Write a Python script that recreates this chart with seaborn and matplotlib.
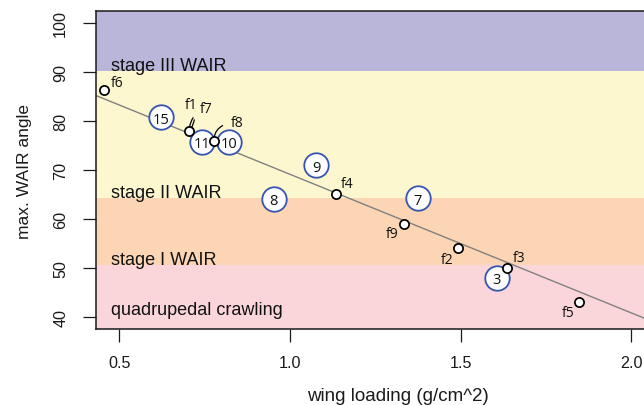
import numpy as np
import pandas as pd
import matplotlib
matplotlib.use("Agg")
import matplotlib.pyplot as plt
import seaborn as sns

# Fossil specimens: wing loading vs. maximum WAIR angle
fossil_ids = ["f6", "f1", "f7", "f8", "f4", "f9", "f2", "f3", "f5"]
fossil_wing_loading = [0.456, 0.705, 0.705, 0.7775, 1.135, 1.335, 1.4915, 1.636, 1.848]
fossil_wair_angle = [86.3, 77.9, 77.9, 75.9, 65.05, 58.9, 54.05, 50.1, 43.1]

# Extant birds (numbered)
bird_ids = ["15", "11", "10", "9", "8", "7", "3"]
bird_wing_loading = [0.623, 0.742, 0.8205, 1.077, 0.952, 1.374, 1.606]
bird_wair_angle = [80.75, 75.75, 75.75, 71.0, 64.1, 64.2, 48.05]

# Linear trend: angle = intercept + slope * wing loading
trend_intercept = 97.37
trend_slope = -28.24

# Locomotor stages and the angle bounds that separate them
stage_names = ["quadrupedal crawling", "stage I WAIR", "stage II WAIR", "stage III WAIR"]
stage_bounds = [50.6, 64.3, 90.1]
stage_colors = ["#fad6db", "#fcd5b4", "#fdf7d0", "#b9b6d9"]

x_ticks = [0.5, 1.0, 1.5, 2.0]
x_tick_labels = ["0.5", "1.0", "1.5", "2.0"]
y_ticks = [40, 50, 60, 70, 80, 90, 100]

fossil_df = pd.DataFrame({"id": fossil_ids, "wl": fossil_wing_loading, "angle": fossil_wair_angle})
bird_df = pd.DataFrame({"id": bird_ids, "wl": bird_wing_loading, "angle": bird_wair_angle})

sns.set_style("ticks")
plt.rcParams["font.family"] = ["Liberation Sans", "DejaVu Sans"]

XLIM = (0.4332, 2.2)
YLIM = (37.6, 102.4)

fig = plt.figure(figsize=(6.44, 4.06), dpi=100)
ax = fig.add_axes([0.1498, 0.1872, 0.9363, 0.7832])
ax.set_xlim(*XLIM)
ax.set_ylim(*YLIM)

# background bands
edges = [YLIM[0] - 50] + stage_bounds + [YLIM[1] + 50]
for lo, hi, col in zip(edges[:-1], edges[1:], stage_colors):
    ax.axhspan(lo, hi, color=col, lw=0, zorder=0)

# stage captions sit just above each band's lower edge
cap_y = [YLIM[0] + 3.05] + [b + 0.25 for b in stage_bounds]
for name, yv in zip(stage_names, cap_y):
    ax.annotate(name, xy=(0, yv), xycoords=("axes fraction", "data"),
                xytext=(10.2, 0), textcoords="offset points",
                ha="left", va="baseline", fontsize=13, color="#111111", zorder=5)

# trend line
ax.axline((0, trend_intercept), slope=trend_slope, color="#808080", lw=1.0, zorder=1)

# numbered birds
sns.scatterplot(data=bird_df, x="wl", y="angle", s=310, color="white",
                edgecolor="#3554b0", linewidth=1.3, zorder=3, ax=ax, legend=False)
for _, r in bird_df.iterrows():
    ax.text(r.wl, r.angle, r.id, ha="center", va="center_baseline", fontsize=10.5,
            family=["Open Sans", "DejaVu Sans"], color="#111111", zorder=4)

# fossil points
sns.scatterplot(data=fossil_df.drop_duplicates("wl"), x="wl", y="angle", s=44,
                color="white", edgecolor="black", linewidth=1.25, zorder=6, ax=ax,
                legend=False)

# fossil labels
plain_offsets = {"f6": (9.4, 5.5), "f4": (8.1, 7.9), "f9": (-8.4, -6.5),
                 "f2": (-7.9, -8.4), "f3": (8.4, 7.5), "f5": (-7.9, -7.9)}
leader_offsets = {"f1": ((1.7, 19.5), "arc3,rad=-0.3"),
                  "f7": ((12.0, 16.3), "arc3,rad=0.35"),
                  "f8": ((16.5, 13.0), "angle3,angleA=0,angleB=90")}
lab_font = dict(fontsize=10, family=["Open Sans", "DejaVu Sans"], color="#111111")
for _, r in fossil_df.iterrows():
    if r.id in plain_offsets:
        ax.annotate(r.id, xy=(r.wl, r.angle), xytext=plain_offsets[r.id],
                    textcoords="offset points", ha="center", va="center",
                    zorder=7, **lab_font)
    else:
        off, cs = leader_offsets[r.id]
        ax.annotate(r.id, xy=(r.wl, r.angle), xytext=off,
                    textcoords="offset points", ha="center", va="center", zorder=7,
                    arrowprops=dict(arrowstyle="-", connectionstyle=cs, color="black",
                                    lw=0.9, shrinkA=3.5, shrinkB=3.0),
                    **lab_font)

# axes styling
for side in ["left", "right", "top", "bottom"]:
    ax.spines[side].set_visible(True)
    ax.spines[side].set_color("#1a1a1a")
    ax.spines[side].set_linewidth(1.1)
ax.set_xticks(x_ticks)
ax.set_xticklabels(x_tick_labels)
ax.set_yticks(y_ticks)
ax.set_yticklabels([str(v) for v in y_ticks], rotation=90, va="center")
ax.tick_params(direction="out", length=9.4, width=0.9, color="#1a1a1a",
               labelsize=11.6, labelcolor="#1a1a1a")
ax.tick_params(axis="x", pad=9.5)
ax.tick_params(axis="y", pad=11)
ax.set_xlabel("wing loading (g/cm^2)", fontsize=13.5, labelpad=12, color="#1a1a1a")
ax.set_ylabel("max. WAIR angle", fontsize=12.5, labelpad=15, color="#1a1a1a")

fig.savefig("out.png", dpi=100)
